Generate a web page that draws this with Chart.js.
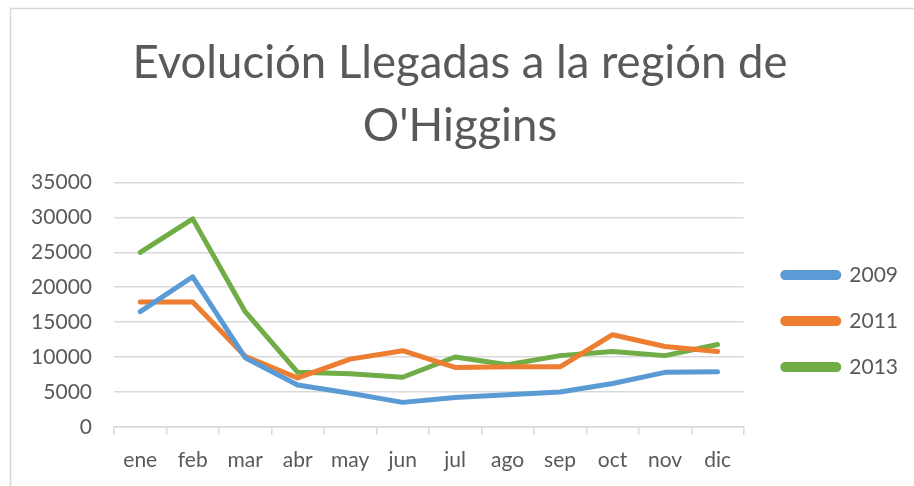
<!DOCTYPE html>
<html>
<head>
<meta charset="utf-8">
<script src="https://cdn.jsdelivr.net/npm/chart.js@4/dist/chart.umd.min.js"></script>
<style>
    html, body { margin: 0; padding: 0; background: #ffffff; }
    #wrap { width: 914px; height: 486px; position: relative; }
</style>
</head>
<body>
<div id="wrap"><canvas id="chart" width="914" height="486"></canvas></div>
<script>
const months = ["ene", "feb", "mar", "abr", "may", "jun", "jul", "ago", "sep", "oct", "nov", "dic"];
const llegadas2009 = [16500, 21500, 9900, 6000, 4800, 3500, 4200, 4600, 5000, 6200, 7800, 7900];
const llegadas2011 = [17900, 17900, 10100, 7000, 9700, 10900, 8500, 8600, 8600, 13200, 11500, 10800];
const llegadas2013 = [25000, 29800, 16500, 7800, 7600, 7100, 10000, 8900, 10200, 10800, 10200, 11800];
const yTicks = [0, 5000, 10000, 15000, 20000, 25000, 30000, 35000];

const textColor = "#595959";
const gridColor = "#d9d9d9";

function makeSeries(label, data, color) {
    return {
        label: label,
        data: data,
        borderColor: color,
        backgroundColor: color,
        borderWidth: 5,
        borderCapStyle: "round",
        borderJoinStyle: "round",
        pointRadius: 0,
        pointHoverRadius: 0,
        tension: 0,
        fill: false
    };
}

// light frame like the Excel chart border
const framePlugin = {
    id: "frame",
    beforeDraw(chart) {
        const ctx = chart.ctx;
        ctx.save();
        ctx.fillStyle = "#ffffff";
        ctx.fillRect(0, 0, chart.width, chart.height);
        ctx.strokeStyle = gridColor;
        ctx.lineWidth = 1.5;
        ctx.strokeRect(10.5, 8.5, 1000, 1000);
        ctx.restore();
    }
};

// leave a wider gap between plot area and legend, as Excel does
const legendGap = {
    id: "legendGap",
    afterLayout(chart) {
        if (chart.legend) {
            chart.legend.left += 14;
            chart.legend.right += 14;
        }
    }
};

new Chart(document.getElementById("chart"), {
    type: "line",
    data: {
        labels: months,
        datasets: [
            makeSeries("2009", llegadas2009, "#5b9bd5"),
            makeSeries("2011", llegadas2011, "#ed7d31"),
            makeSeries("2013", llegadas2013, "#70ad47")
        ]
    },
    plugins: [framePlugin, legendGap],
    options: {
        responsive: false,
        animation: false,
        layout: {
            padding: { left: 26, right: 20, top: 0, bottom: 0 }
        },
        plugins: {
            title: {
                display: true,
                text: ["Evolución Llegadas a la región de", "O'Higgins"],
                color: textColor,
                font: { family: "Lato", size: 45.5, weight: "normal", lineHeight: 1.38 },
                padding: { top: 32, bottom: 25 }
            },
            legend: {
                position: "right",
                title: {
                    display: true,
                    text: "",
                    font: { size: 1 },
                    padding: { top: 155, bottom: 0 }
                },
                labels: {
                    color: textColor,
                    font: { family: "Lato", size: 21 },
                    boxWidth: 56,
                    boxHeight: 5,
                    padding: 25,
                    useBorderRadius: true,
                    borderRadius: 2.5
                }
            },
            tooltip: { enabled: false }
        },
        scales: {
            x: {
                offset: true,
                grid: {
                    offset: true,
                    drawOnChartArea: false,
                    drawTicks: true,
                    tickLength: 8,
                    color: gridColor,
                    lineWidth: 1.5
                },
                border: { display: true, color: gridColor, width: 1.5 },
                ticks: {
                    color: textColor,
                    font: { family: "Lato", size: 21 },
                    padding: 13,
                    maxRotation: 0,
                    autoSkip: false
                }
            },
            y: {
                min: 0,
                max: 35000,
                afterFit(scale) {
                    scale.width = 88;
                },
                afterBuildTicks(scale) {
                    scale.ticks = yTicks.map(v => ({ value: v }));
                },
                grid: {
                    color: gridColor,
                    lineWidth: 1.5,
                    drawTicks: false
                },
                border: { display: false },
                ticks: {
                    color: textColor,
                    font: { family: "Lato", size: 21 },
                    padding: 22,
                    callback: (v) => String(v)
                }
            }
        }
    }
});
</script>
</body>
</html>
